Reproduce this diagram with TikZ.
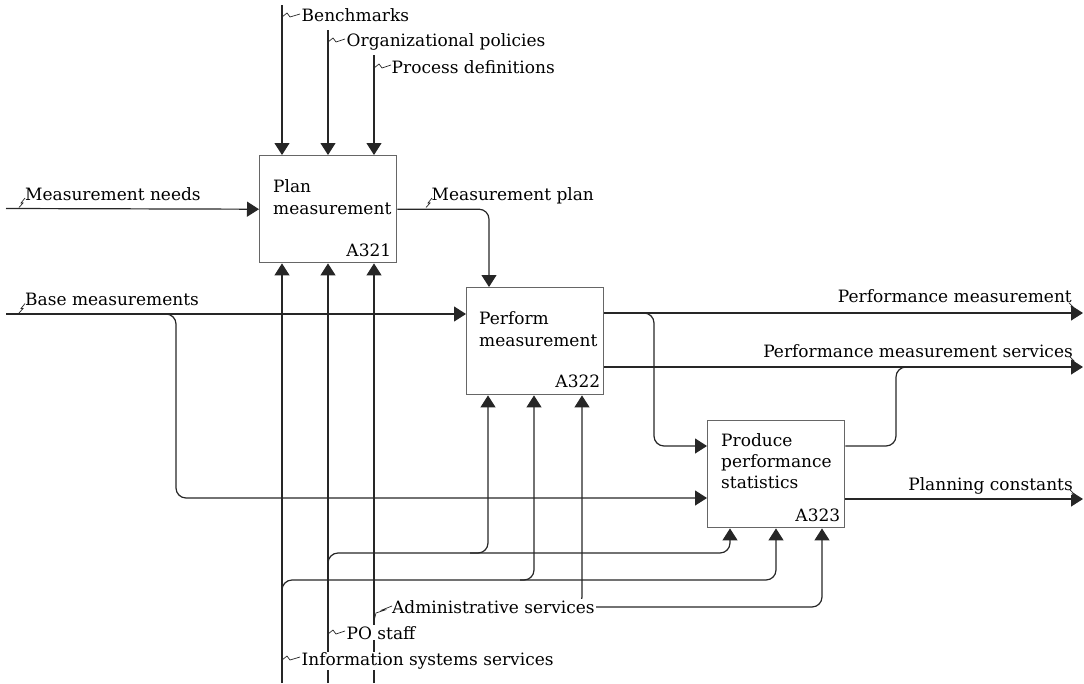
\documentclass[tikz,border=0pt]{standalone}
\usepackage{fontspec}
\setmainfont{DejaVu Serif}
\usetikzlibrary{arrows.meta,calc}
\begin{document}
\begin{tikzpicture}[x=1pt,y=-1pt,
  conn/.style={line width=1.2pt, draw=black!85},
  tip/.style={-{Triangle[width=15pt,length=12pt]}},
  curved/.style={rounded corners=10pt},
  actbox/.style={draw=black!60, line width=1.4pt, minimum width=137pt, minimum height=107pt, inner sep=0pt, anchor=north west},
  txt/.style={inner sep=0pt, font=\fontsize{17}{20}\selectfont},
  boxtext/.style={txt, anchor=base west},
  boxid/.style={txt, anchor=base east},
  lbl/.style={inner sep=1pt, fill=white, font=\fontsize{17}{20}\selectfont},
  squig/.style={line width=0.7pt, draw=black!85},
]
\useasboundingbox (0,0) rectangle (1084,683);

% activity boxes
\node[actbox] (a321) at (259,155) {};
\node[actbox] (a322) at (466,287) {};
\node[actbox] (a323) at (707,420) {};

\node[boxtext] (a321l1) at ($(a321.north west)+(14,37)$) {Plan};
\node[boxtext] (a321l2) at ($(a321.north west)+(14,59)$) {measurement};
\node[boxid] (a321id) at ($(a321.south east)+(-6,-7)$) {A321};

\node[boxtext] (a322l1) at ($(a322.north west)+(13,37)$) {Perform};
\node[boxtext] (a322l2) at ($(a322.north west)+(13,59)$) {measurement};
\node[boxid] (a322id) at ($(a322.south east)+(-4,-8)$) {A322};

\node[boxtext] (a323l1) at ($(a323.north west)+(14,26)$) {Produce};
\node[boxtext] (a323l2) at ($(a323.north west)+(14,47)$) {performance};
\node[boxtext] (a323l3) at ($(a323.north west)+(14,68)$) {statistics};
\node[boxid] (a323id) at ($(a323.south east)+(-5,-7)$) {A323};

% free ends of the boundary arrows
\coordinate (cBench) at (282,5);
\coordinate (cPolicy) at (328,30);
\coordinate (cProc) at (374,55);
\coordinate (cNeeds) at (6,208.5);
\coordinate (cBase) at (6,314);
\coordinate (cIS) at (282,683);
\coordinate (cPO) at (328,683);
\coordinate (cAdm) at (374,683);
\coordinate (cAdmH) at (395,607);
\coordinate (oPerf) at (1083,313);
\coordinate (oServ) at (1083,367);
\coordinate (oPlan) at (1083,499);

% controls
\draw[conn,tip] (cBench) -- (cBench |- a321.north);
\draw[conn,tip] (cPolicy) -- (cPolicy |- a321.north);
\draw[conn,tip] (cProc) -- (cProc |- a321.north);

% inputs
\draw[conn,tip] (cNeeds) -- (a321.west);
\draw[conn,tip] (cBase) -- (a322.west |- cBase);
\draw[conn,curved,tip] (150,314) -| (176,498) -- (a323.west |- 0,498);
\draw[conn,curved,tip] (a321.east) -| (489,0 |- a322.north);

% outputs
\draw[conn,tip] (a322.east |- oPerf) -- (oPerf);
\draw[conn,curved,tip] (640,313) -| (654,446) -- (a323.west |- 0,446);
\draw[conn,tip] (a322.east |- oServ) -- (oServ);
\draw[conn,curved] (a323.east |- 0,446) -| (896,367) -- (912,367);
\draw[conn,tip] (a323.east |- oPlan) -- (oPlan);

% mechanisms
\draw[conn,tip] (cIS) -- (cIS |- a321.south);
\draw[conn,tip] (cPO) -- (cPO |- a321.south);
\draw[conn,tip] (cAdm) -- (cAdm |- a321.south);
\draw[conn,curved,tip] (282,600) |- (534,580) -- (534,0 |- a322.south);
\draw[conn,curved,tip] (520,580) -| (776,0 |- a323.south);
\draw[conn,curved,tip] (328,575) |- (488,553) -- (488,0 |- a322.south);
\draw[conn,curved,tip] (470,553) -| (730,0 |- a323.south);
\draw[conn,curved,tip] (cAdmH) -| (822,0 |- a323.south);
\draw[conn,curved,tip] (560,607) -| (582,0 |- a322.south);

% arrow labels
\node[lbl, anchor=base west] (lBench) at (300.5,21.5) {Benchmarks};
\node[lbl, anchor=base west] (lPolicy) at (345.5,46.5) {Organizational policies};
\node[lbl, anchor=base west] (lProc) at (390.5,73) {Process definitions};
\node[lbl, anchor=base west] (lNeeds) at (24,200) {Measurement needs};
\node[lbl, anchor=base west] (lBase) at (24,305.5) {Base measurements};
\node[lbl, anchor=base west] (lMPlan) at (430.5,200) {Measurement plan};
\node[lbl, anchor=base east] (lPerf) at (1073,302.5) {Performance measurement};
\node[lbl, anchor=base east] (lServ) at (1074,357) {Performance measurement services};
\node[lbl, anchor=base east] (lPlanC) at (1074,490) {Planning constants};
\node[lbl, anchor=base west] (lAdm) at (391,613) {Administrative services};
\node[lbl, anchor=base west] (lPO) at (345.5,639) {PO staff};
\node[lbl, anchor=base west] (lIS) at (300.5,665.5) {Information systems services};

% squiggles tying labels to their arrows
\draw[squig] (282,17) -- (287,13) -- (290,17) -- (300,14);
\draw[squig] (328,42) -- (333,38) -- (336,42) -- (345,39);
\draw[squig] (374,68) -- (379,64) -- (382,68) -- (391,65);
\draw[squig] (19,207.5) -- (23,203) -- (21,203) -- (25,198);
\draw[squig] (19,313) -- (23,308.5) -- (21,308.5) -- (25,303.5);
\draw[squig] (426,207.5) -- (430,203) -- (428,203) -- (432,198);
\draw[squig] (1069,303) -- (1073,307) -- (1071,307) -- (1076,312);
\draw[squig] (1070,357) -- (1074,361) -- (1072,361) -- (1077,366);
\draw[squig] (1070,490) -- (1074,494) -- (1072,494) -- (1077,498);
\draw[squig] (374,621) -- (376,613) -- (385,610) -- (382,610) -- (392,606);
\draw[squig] (328,634) -- (333,630) -- (336,634) -- (345,631);
\draw[squig] (282,660) -- (287,656) -- (290,660) -- (300,657);
\end{tikzpicture}
\end{document}
